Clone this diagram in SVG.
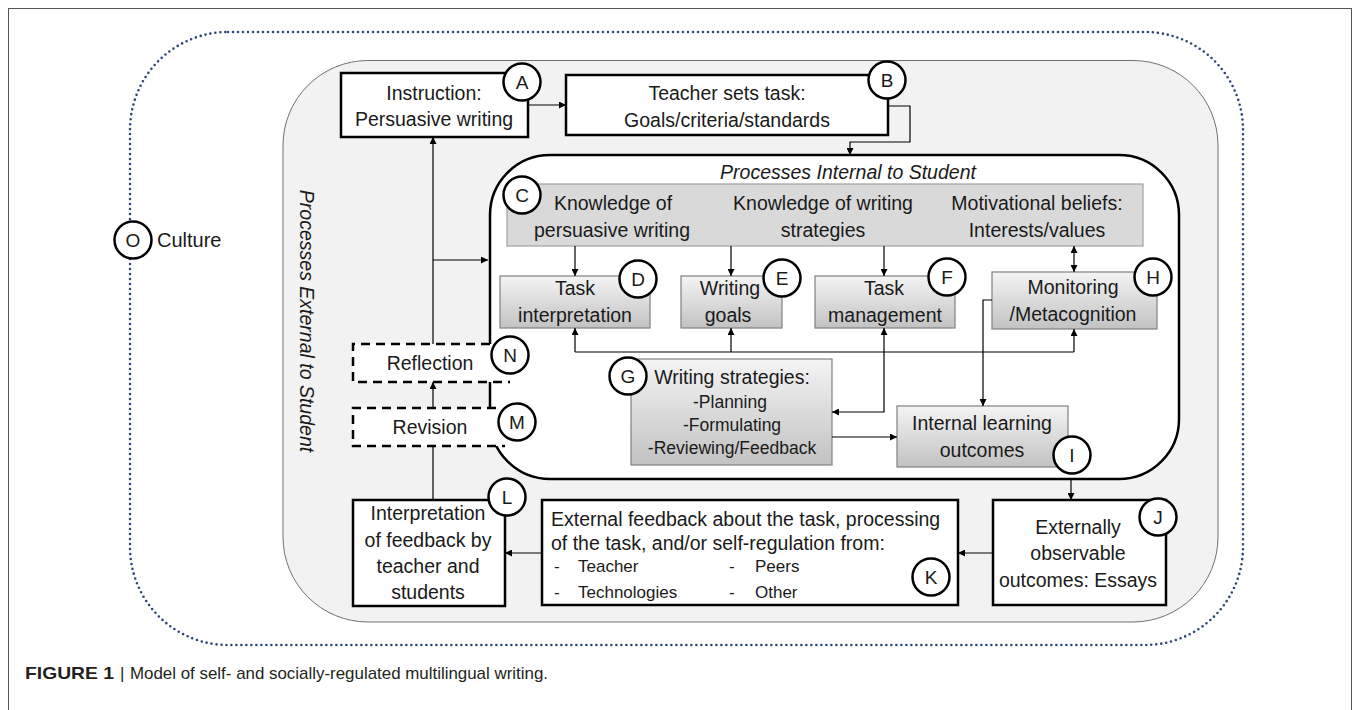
<svg xmlns="http://www.w3.org/2000/svg" width="1358" height="710" viewBox="0 0 1358 710">
<defs>
<marker id="ah" viewBox="0 0 10 10" refX="10" refY="5" markerWidth="7" markerHeight="7" markerUnits="userSpaceOnUse" orient="auto-start-reverse"><path d="M0,0 L10,5 L0,10 z" fill="#000"/></marker>
<linearGradient id="gr" x1="0" y1="0" x2="0" y2="1"><stop offset="0" stop-color="#f4f4f4"/><stop offset="1" stop-color="#c2c2c2"/></linearGradient>
<style>
text{font-family:"Liberation Sans",Arial,sans-serif;fill:#1a1a1a}
.t{font-size:19.5px;text-anchor:middle}
.s{font-size:17.5px;text-anchor:middle}
.k{font-size:19.5px}
.k2{font-size:17px}
.it{font-style:italic;font-size:19.5px;text-anchor:middle}
.lt{font-size:19px;text-anchor:middle}
.wb{fill:#fff;stroke:#000;stroke-width:2.5}
.gb{fill:url(#gr);stroke:#808080;stroke-width:1.2}
.db{fill:none;stroke:#000;stroke-width:2.5;stroke-dasharray:9 6}
.cir{fill:#fff;stroke:#000;stroke-width:2.5}
.cn{fill:none;stroke:#000;stroke-width:1.2}
.ar{marker-end:url(#ah)}
.ar2{marker-start:url(#ah);marker-end:url(#ah)}
</style>
</defs>
<rect x="8.5" y="8.5" width="1343" height="720" fill="#fff" stroke="#555" stroke-width="1"/>
<rect x="130" y="32" width="1113" height="613" rx="98" ry="98" fill="none" stroke="#2c4677" stroke-width="2.6" stroke-dasharray="0 5" stroke-linecap="round"/>
<g id="external">
<rect x="283" y="60.5" width="935" height="561.5" rx="85" ry="85" fill="#f2f2f2" stroke="#707070" stroke-width="1"/>
<text class="it" transform="translate(300,321) rotate(90)">Processes External to Student</text>
</g>
<g id="internal">
<rect x="490" y="155" width="689" height="324" rx="60" ry="60" fill="#fff" stroke="#000" stroke-width="2.5"/>
<text class="it" x="848" y="179">Processes Internal to Student</text>
</g>
<g id="nodeO">
<circle class="cir" cx="133" cy="240" r="18.5"/>
<text class="lt" x="133" y="247">O</text>
<text x="157" y="247" style="font-size:20px">Culture</text>
</g>
<g id="nodeA">
<rect class="wb" x="341" y="73" width="187" height="64"/>
<text class="t" x="434" y="100">Instruction:</text>
<text class="t" x="434" y="126">Persuasive writing</text>
</g>
<g id="nodeB">
<rect class="wb" x="566" y="75" width="322" height="60"/>
<text class="t" x="727" y="100">Teacher sets task:</text>
<text class="t" x="727" y="127">Goals/criteria/standards</text>
</g>
<g id="nodeC">
<rect x="507" y="184" width="636" height="62" fill="#d9d9d9" stroke="#a0a0a0" stroke-width="1.2"/>
<text class="t" x="613" y="210">Knowledge of</text>
<text class="t" x="612" y="237">persuasive writing</text>
<text class="t" x="823" y="210">Knowledge of writing</text>
<text class="t" x="823" y="237">strategies</text>
<text class="t" x="1037" y="210">Motivational beliefs:</text>
<text class="t" x="1037" y="237">Interests/values</text>
</g>
<g id="nodeD">
<rect class="gb" x="500" y="276" width="150" height="52"/>
<text class="t" x="575" y="295">Task</text>
<text class="t" x="575" y="322">interpretation</text>
</g>
<g id="nodeE">
<rect class="gb" x="681" y="276" width="101" height="52"/>
<text class="t" x="730" y="295">Writing</text>
<text class="t" x="728" y="322">goals</text>
</g>
<g id="nodeF">
<rect class="gb" x="815" y="276" width="140" height="52"/>
<text class="t" x="884" y="295">Task</text>
<text class="t" x="885" y="322">management</text>
</g>
<g id="nodeH">
<rect class="gb" x="992" y="272" width="165" height="57"/>
<text class="t" x="1073" y="294">Monitoring</text>
<text class="t" x="1073" y="321">/Metacognition</text>
</g>
<g id="nodeG">
<rect class="gb" x="631" y="359" width="201" height="106"/>
<text class="t" x="732" y="384">Writing strategies:</text>
<text class="s" x="730" y="408">-Planning</text>
<text class="s" x="732" y="431">-Formulating</text>
<text class="s" x="732" y="454">-Reviewing/Feedback</text>
</g>
<g id="nodeI">
<rect class="gb" x="897" y="406" width="171" height="61"/>
<text class="t" x="982" y="430">Internal learning</text>
<text class="t" x="982" y="457">outcomes</text>
</g>
<g id="nodeN">
<rect x="353" y="344" width="152" height="38" fill="#fff"/>
<path class="db" d="M490,344 H353 V382 H510"/>
<text class="t" x="430" y="370">Reflection</text>
</g>
<g id="nodeM">
<rect x="353" y="408" width="150" height="38" fill="#fff"/>
<path class="db" d="M496,408 H353 V446 H505"/>
<text class="t" x="430" y="434">Revision</text>
</g>
<g id="nodeL">
<rect class="wb" x="353" y="500" width="152" height="106"/>
<text class="t" x="428" y="520">Interpretation</text>
<text class="t" x="428" y="547">of feedback by</text>
<text class="t" x="428" y="573">teacher and</text>
<text class="t" x="428" y="599">students</text>
</g>
<g id="nodeK">
<rect class="wb" x="542" y="500" width="416" height="105"/>
<text class="k" x="551" y="526">External feedback about the task, processing</text>
<text class="k" x="551" y="550">of the task, and/or self-regulation from:</text>
<text class="k2" x="554" y="572">-</text>
<text class="k2" x="578" y="572">Teacher</text>
<text class="k2" x="729" y="572">-</text>
<text class="k2" x="755" y="572">Peers</text>
<text class="k2" x="554" y="598">-</text>
<text class="k2" x="578" y="598">Technologies</text>
<text class="k2" x="729" y="598">-</text>
<text class="k2" x="755" y="598">Other</text>
</g>
<g id="nodeJ">
<rect class="wb" x="993" y="500" width="173" height="105"/>
<text class="t" x="1078" y="534">Externally</text>
<text class="t" x="1078" y="560">observable</text>
<text class="t" x="1078" y="587">outcomes: Essays</text>
</g>
<g id="connectors">
<path class="cn ar" d="M528,105 H566"/>
<path class="cn ar" d="M888,106 H910 V142 H850 V155"/>
<path class="cn ar" d="M575,246 V276"/>
<path class="cn ar" d="M731,246 V276"/>
<path class="cn ar" d="M884,246 V276"/>
<path class="cn ar2" d="M1074,246 V272"/>
<path class="cn" d="M575,352 H1074"/>
<path class="cn ar" d="M575,352 V328"/>
<path class="cn ar" d="M731,352 V328"/>
<path class="cn ar" d="M1074,352 V329"/>
<path class="cn ar2" d="M884,328 V412 H832"/>
<path class="cn ar" d="M992,300 H983 V406"/>
<path class="cn ar" d="M832,437 H897"/>
<path class="cn ar" d="M1071,479 V500"/>
<path class="cn ar" d="M993,553 H958"/>
<path class="cn ar" d="M542,553 H505"/>
<path class="cn" d="M433,500 V446"/>
<path class="cn ar" d="M433,408 V382"/>
<path class="cn ar" d="M433,344 V137"/>
<path class="cn ar" d="M433,260 H488"/>
</g>
<g id="labels">
<circle class="cir" cx="522" cy="82" r="18.5"/><text class="lt" x="522" y="89">A</text>
<circle class="cir" cx="887" cy="80" r="18.5"/><text class="lt" x="887" y="87">B</text>
<circle class="cir" cx="522" cy="195" r="18.5"/><text class="lt" x="522" y="202">C</text>
<circle class="cir" cx="638" cy="279" r="18.5"/><text class="lt" x="638" y="286">D</text>
<circle class="cir" cx="782" cy="278" r="18.5"/><text class="lt" x="782" y="285">E</text>
<circle class="cir" cx="947" cy="277" r="18.5"/><text class="lt" x="947" y="284">F</text>
<circle class="cir" cx="628" cy="376" r="18.5"/><text class="lt" x="628" y="383">G</text>
<circle class="cir" cx="1153" cy="277" r="18.5"/><text class="lt" x="1153" y="284">H</text>
<circle class="cir" cx="1072" cy="455" r="18.5"/><text class="lt" x="1072" y="462">I</text>
<circle class="cir" cx="1158" cy="517" r="18.5"/><text class="lt" x="1158" y="524">J</text>
<circle class="cir" cx="931" cy="577" r="18.5"/><text class="lt" x="931" y="584">K</text>
<circle class="cir" cx="507" cy="497" r="18.5"/><text class="lt" x="507" y="504">L</text>
<circle class="cir" cx="517" cy="422" r="18.5"/><text class="lt" x="517" y="429">M</text>
<circle class="cir" cx="510" cy="355" r="18.5"/><text class="lt" x="510" y="362">N</text>
</g>
<g id="caption">
<text x="25" y="679" style="font-size:17px;font-weight:bold;fill:#231f20" textLength="89" lengthAdjust="spacingAndGlyphs">FIGURE 1</text>
<text x="120" y="679" style="font-size:17px;fill:#231f20">|</text>
<text x="130" y="679" style="font-size:17px;fill:#231f20" textLength="418" lengthAdjust="spacingAndGlyphs">Model of self- and socially-regulated multilingual writing.</text>
</g>
</svg>
